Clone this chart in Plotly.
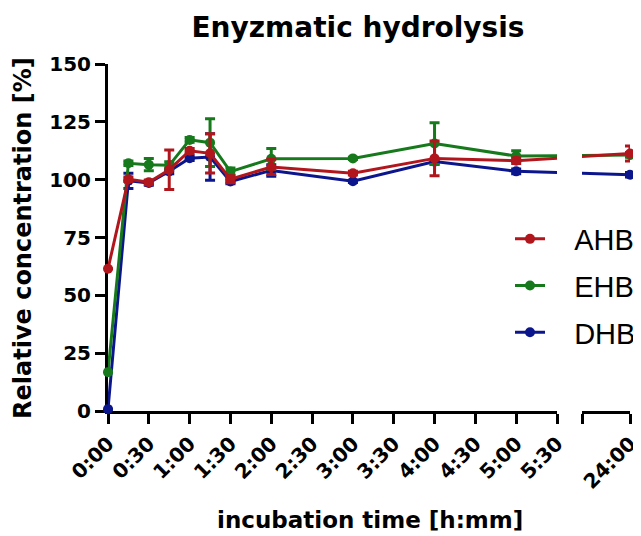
import plotly.graph_objects as go

# ---------------- data ----------------
time_min = [0, 15, 30, 45, 60, 75, 90, 120, 180, 240, 300, 1440]

ahb = [61.5, 100.2, 98.9, 104.3, 112.5, 111.4, 100.2, 105.5, 102.8, 109.2, 108.2, 111.3]
ahb_err = [0, 1.0, 1.0, 8.5, 1.0, 8.5, 1.5, 3.3, 0.8, 7.5, 1.2, 3.2]

ehb = [16.8, 107.1, 106.5, 106.2, 117.2, 116.0, 103.5, 109.0, 109.2, 115.6, 110.2, 110.7]
ehb_err = [0, 1.0, 2.6, 1.5, 1.0, 10.3, 1.5, 4.5, 0.5, 9.0, 2.3, 1.0]

dhb = [0.8, 99.5, 98.6, 103.6, 109.3, 109.8, 99.2, 104.0, 99.3, 107.8, 103.6, 102.1]
dhb_err = [0, 3.3, 1.0, 1.0, 1.0, 10.0, 1.0, 2.5, 0.5, 1.0, 1.0, 1.0]

seg1_tickvals = [0, 30, 60, 90, 120, 150, 180, 210, 240, 270, 300, 330]
seg1_ticktext = ["0:00", "0:30", "1:00", "1:30", "2:00", "2:30", "3:00",
                 "3:30", "4:00", "4:30", "5:00", "5:30"]
seg2_ticktext = ["", "24:00"]

# ---------------- style ----------------
RED = "#B0161C"
GREEN = "#167A1C"
BLUE = "#0C168C"
BOLD = "DejaVu Sans"
ARIAL = "Liberation Sans, Arial, sans-serif"

# page body has an 8px margin: design in window pixels, shift by OFF
OFF = 8
W, H = 641 - OFF, 536 - OFF
PL, PR, PT, PB = 108, 630, 64, 411  # plot area in window pixels
PW, PH = PR - PL, PB - PT

# broken x axis geometry (two segments sharing one virtual scale)
D1_END = (557 - PL) / PW
D2_START = (582 - PL) / PW
SEG1_MAX = 330
scale = SEG1_MAX / D1_END
seg2_range = [D2_START * scale, scale]


def virt(t):
    return t if t <= SEG1_MAX else seg2_range[1]


def px_x(x):
    return (x - PL) / PW


def px_y(y):
    return (PB - y) / PH


fig = go.Figure()

series = [
    ("DHB", dhb, dhb_err, BLUE, 3),
    ("EHB", ehb, ehb_err, GREEN, 2),
    ("AHB", ahb, ahb_err, RED, 1),
]

for name, ys, errs, color, rank in series:
    xv = [virt(t) for t in time_min]
    n1 = sum(1 for t in time_min if t <= SEG1_MAX)
    for xa in ("x", "x2"):
        fig.add_trace(go.Scatter(
            x=xv[n1 - 1:], y=ys[n1 - 1:], mode="lines",
            line=dict(color=color, width=3), xaxis=xa, yaxis="y",
            showlegend=False, hoverinfo="skip", legendgroup=name))
    fig.add_trace(go.Scatter(
        x=xv[:n1], y=ys[:n1], mode="lines+markers", name="\u00a0\u00a0\u00a0" + name,
        line=dict(color=color, width=3), marker=dict(size=10, color=color),
        error_y=dict(type="data", array=errs[:n1], color=color, thickness=3, width=5),
        xaxis="x", yaxis="y", cliponaxis=False, legendgroup=name, legendrank=rank))
    fig.add_trace(go.Scatter(
        x=xv[n1:], y=ys[n1:], mode="markers",
        marker=dict(size=10, color=color),
        error_y=dict(type="data", array=errs[n1:], color=color, thickness=3, width=5),
        xaxis="x2", yaxis="y", cliponaxis=False, showlegend=False, legendgroup=name))

axis_common = dict(
    showline=True, linecolor="black", linewidth=3,
    ticks="outside", ticklen=10, tickwidth=3, tickcolor="black",
    showgrid=False, zeroline=False, layer="below traces",
    tickfont=dict(family=BOLD, size=20, color="black", weight="bold"),
)

fig.update_layout(
    width=W, height=H,
    margin=dict(l=PL - OFF, r=W - (PR - OFF), t=PT - OFF, b=H - (PB - OFF),
                autoexpand=False),
    paper_bgcolor="white", plot_bgcolor="white",
    title=dict(text="<b>Enyzmatic hydrolysis</b>", x=(358 - OFF) / W, xanchor="center",
               xref="container", yref="container", y=1 - (27 - OFF) / H, yanchor="middle",
               font=dict(family=BOLD, size=28, color="black")),
    xaxis=dict(domain=[0, D1_END], range=[0, SEG1_MAX], anchor="y",
               tickmode="array", tickvals=seg1_tickvals, ticktext=seg1_ticktext,
               tickangle=-45, **axis_common),
    xaxis2=dict(domain=[D2_START, 1], range=seg2_range, anchor="y",
                tickmode="array", tickvals=seg2_range, ticktext=seg2_ticktext,
                tickangle=-45, **axis_common),
    yaxis=dict(range=[0, 150], tickmode="linear", tick0=0, dtick=25, anchor="x",
               **axis_common),
    legend=dict(x=px_x(510), xanchor="left", y=px_y(286), yanchor="middle",
                font=dict(family=ARIAL, size=29, color="black"),
                bgcolor="rgba(0,0,0,0)", tracegroupgap=6),
    showlegend=True,
    annotations=[
        dict(text="<b>Relative concentration [%]</b>", textangle=-90,
             xref="paper", yref="paper", x=px_x(23), y=px_y(238),
             xanchor="center", yanchor="middle", showarrow=False,
             font=dict(family=BOLD, size=24, color="black")),
        dict(text="<b>incubation time [h:mm]</b>",
             xref="paper", yref="paper", x=px_x(370), y=px_y(520),
             xanchor="center", yanchor="middle", showarrow=False,
             font=dict(family=BOLD, size=23, color="black")),
    ],
)

fig.write_html("out.html")
